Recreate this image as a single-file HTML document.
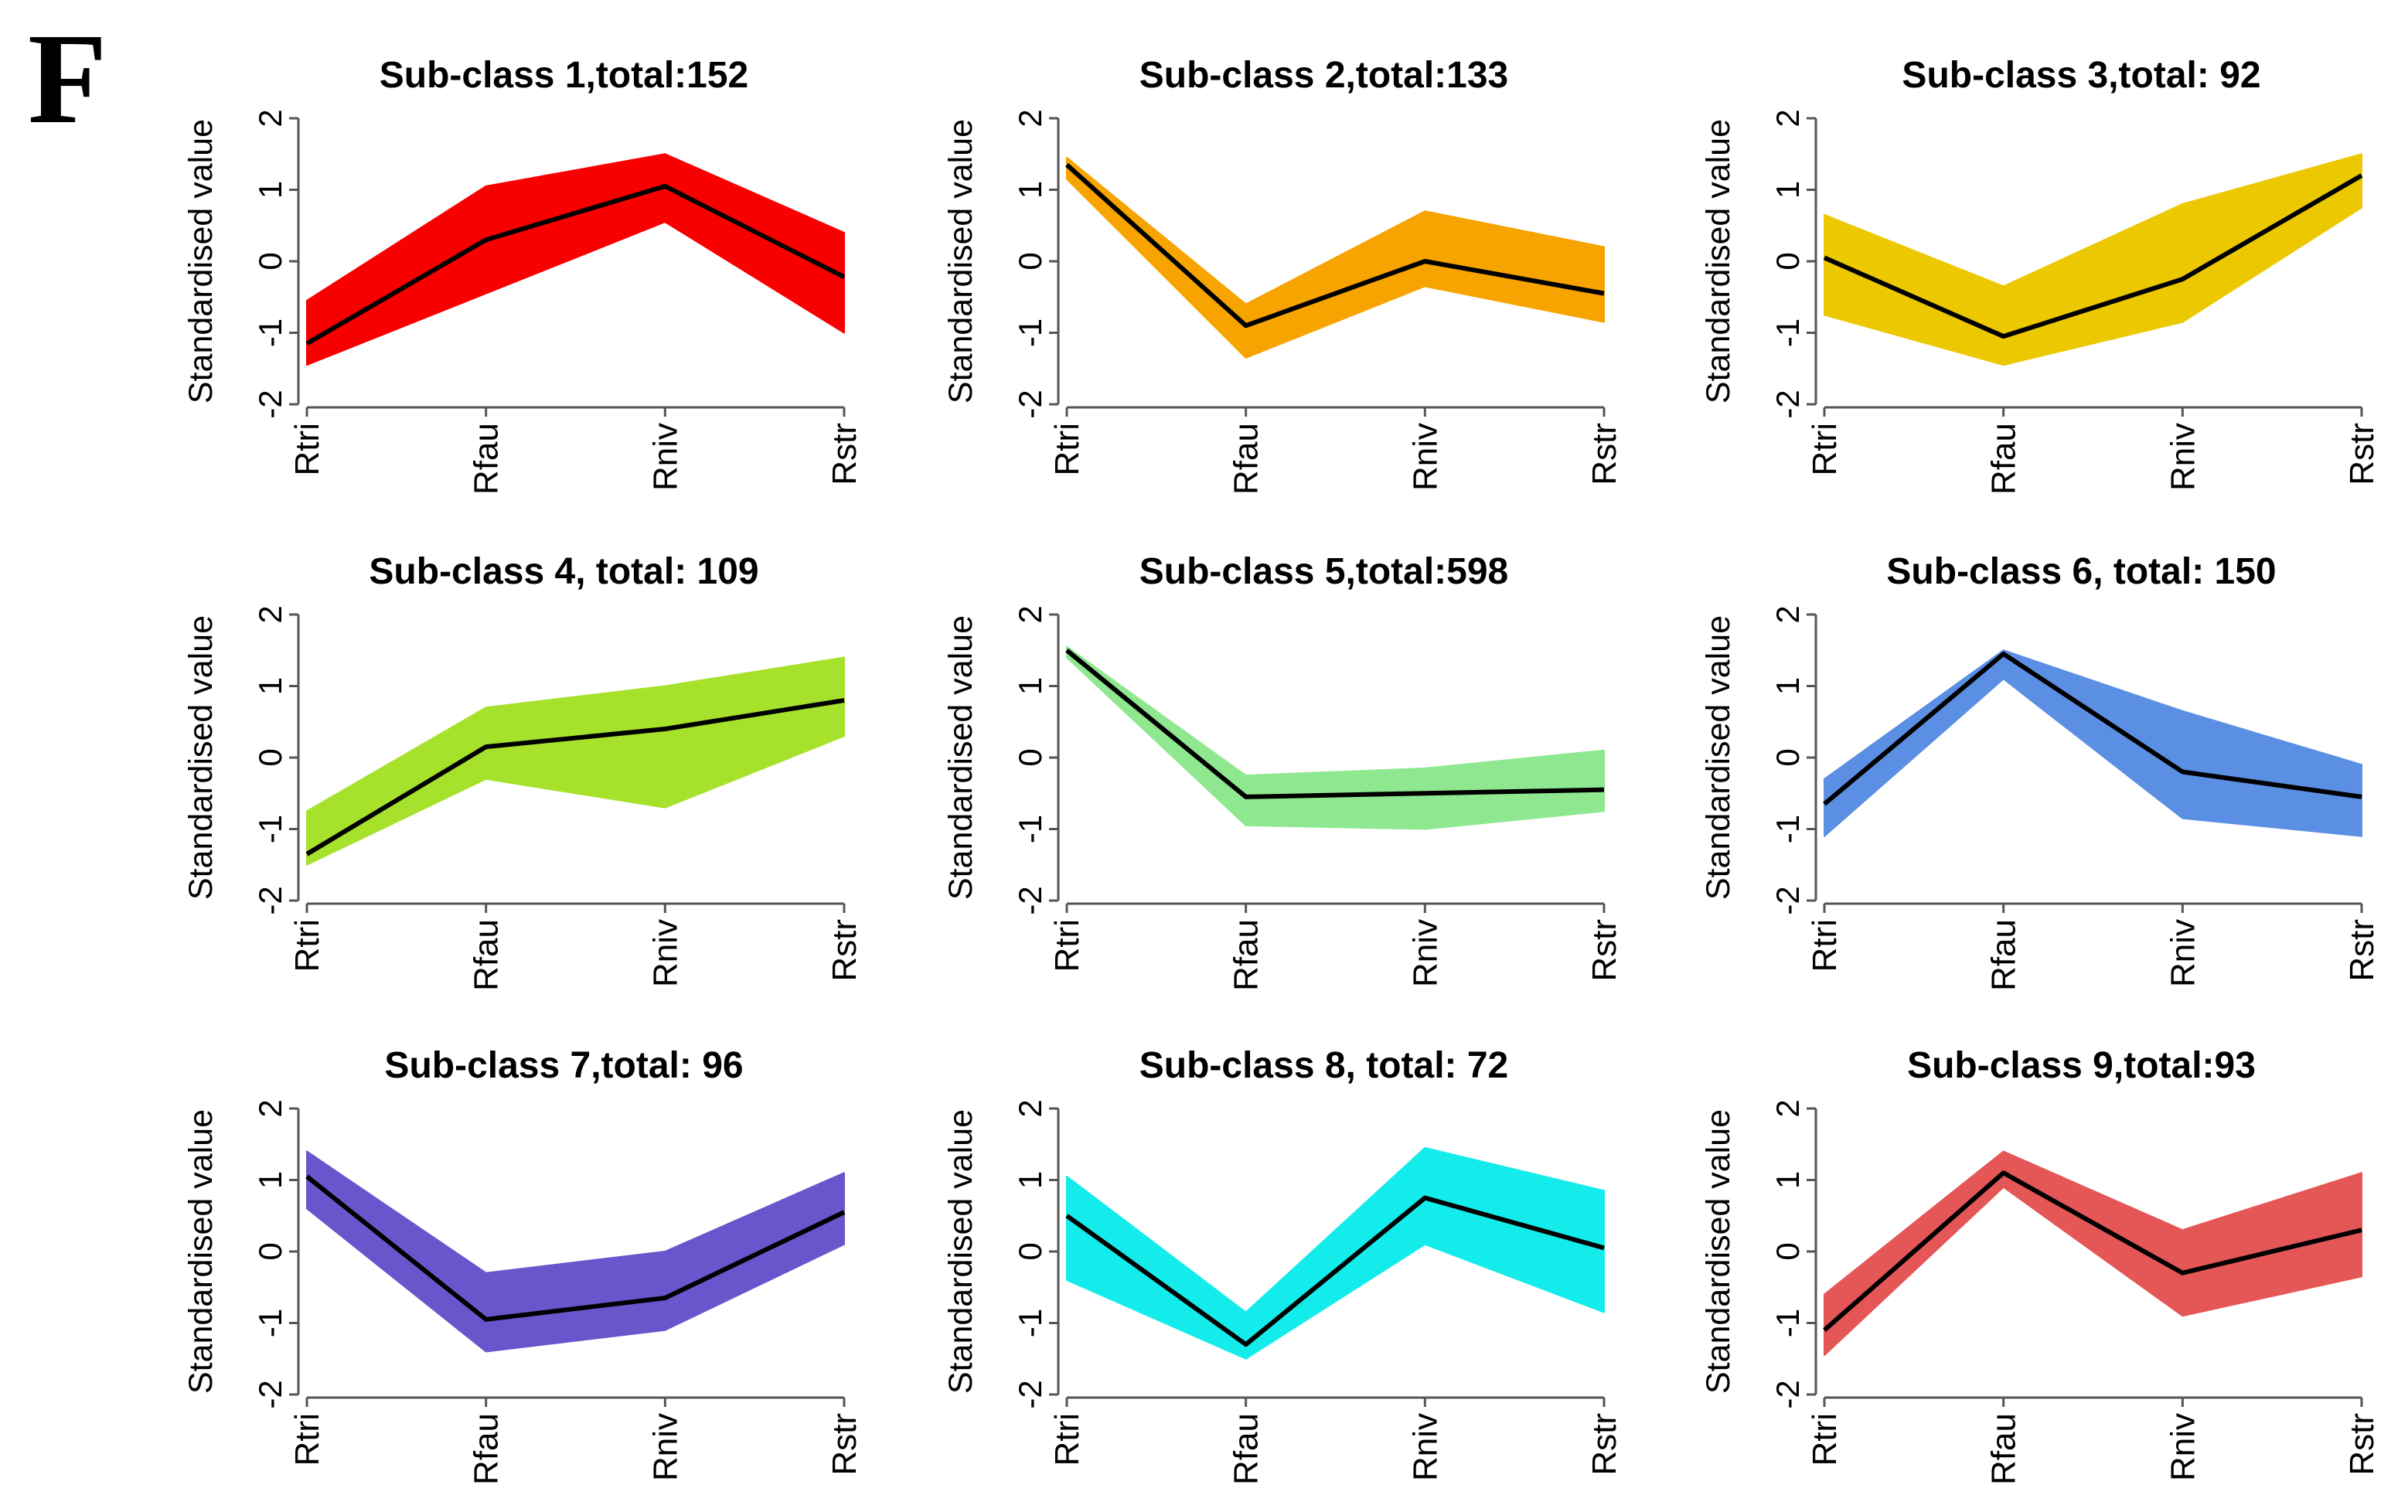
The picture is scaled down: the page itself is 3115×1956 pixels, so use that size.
<!DOCTYPE html>
<html><head><meta charset="utf-8"><style>
html,body{margin:0;padding:0;background:#fff;}
svg{display:block;}
</style></head><body>
<svg id="fig" width="3115" height="1956" viewBox="0 0 3115 1956" xmlns="http://www.w3.org/2000/svg" font-family="Liberation Sans, Arial, sans-serif">
<text x="36" y="158" style="font-family:'Liberation Serif',serif;font-weight:bold;font-size:168px">F</text>
</svg>
<script>
const categories=["Rtri","Rfau","Rniv","Rstr"];
const yTicks=[-2,-1,0,1,2];
const titles=["Sub-class 1,total:152","Sub-class 2,total:133","Sub-class 3,total: 92","Sub-class 4, total: 109","Sub-class 5,total:598","Sub-class 6, total: 150","Sub-class 7,total: 96","Sub-class 8, total: 72","Sub-class 9,total:93"];
const colors=["#f80000","#f7a300","#ecc800","#a6e22c","#8fe88f","#5b8fe3","#6a55cc","#14ecec","#e55656"];
const meanValues=[[-1.15,0.3,1.05,-0.22],[1.35,-0.9,0.0,-0.45],[0.05,-1.05,-0.25,1.2],[-1.35,0.15,0.4,0.8],[1.5,-0.55,-0.5,-0.45],[-0.65,1.45,-0.2,-0.55],[1.05,-0.95,-0.65,0.55],[0.5,-1.3,0.75,0.05],[-1.1,1.1,-0.3,0.3]];
const upperValues=[[-0.55,1.05,1.5,0.4],[1.45,-0.6,0.7,0.2],[0.65,-0.35,0.8,1.5],[-0.75,0.7,1.0,1.4],[1.55,-0.25,-0.15,0.1],[-0.3,1.5,0.65,-0.1],[1.4,-0.3,0.0,1.1],[1.05,-0.85,1.45,0.85],[-0.6,1.4,0.3,1.1]];
const lowerValues=[[-1.45,-0.45,0.55,-1.0],[1.15,-1.35,-0.35,-0.85],[-0.75,-1.45,-0.85,0.75],[-1.5,-0.3,-0.7,0.3],[1.4,-0.95,-1.0,-0.75],[-1.1,1.1,-0.85,-1.1],[0.6,-1.4,-1.1,0.1],[-0.4,-1.5,0.1,-0.85],[-1.45,0.9,-0.9,-0.35]];

const NS="http://www.w3.org/2000/svg";
const svg=document.getElementById("fig");
const colX0=[397,1380,2360], W=695;
const rowY2=[153,795,1434], H=370;
function mk(tag,attrs,parent){const e=document.createElementNS(NS,tag);for(const k in attrs)e.setAttribute(k,attrs[k]);parent.appendChild(e);return e;}

titles.forEach((t,i)=>{
  const c=i%3,r=Math.floor(i/3);
  const x0=colX0[c], yTop=rowY2[r];
  const xs=j=>x0+j*W/(categories.length-1);
  const ys=v=>yTop+(2-v)*H/4;
  const g=mk("g",{},svg);
  
  
  const tt=mk("text",{x:x0-15+W/2,y:yTop-40,"text-anchor":"middle","font-size":"48","font-weight":"bold"},g);
  tt.textContent=t;
  
  
  let pts=[];
  upperValues[i].forEach((v,j)=>pts.push(xs(j)+","+ys(v)));
  for(let j=categories.length-1;j>=0;j--)pts.push(xs(j)+","+ys(lowerValues[i][j]));
  const band=mk("polygon",{points:pts.join(" "),fill:colors[i],stroke:colors[i],"stroke-width":"2","stroke-linejoin":"round"},g);
  
  
  const ml=mk("polyline",{points:meanValues[i].map((v,j)=>xs(j)+","+ys(v)).join(" "),fill:"none",stroke:"#000","stroke-width":"6","stroke-linejoin":"round"},g);
  
  
  const ax=x0-11, yb=yTop+H;
  const ya=mk("line",{x1:ax,y1:yTop,x2:ax,y2:yb,stroke:"#555","stroke-width":"3"},g);
  
  
  yTicks.forEach(v=>{
    mk("line",{x1:ax-12,y1:ys(v),x2:ax,y2:ys(v),stroke:"#555","stroke-width":"3"},g);
    const lt=mk("text",{x:0,y:0,"text-anchor":"middle","font-size":"42",transform:`translate(${ax-22},${ys(v)}) rotate(-90)`},g);
    lt.textContent=String(v);
    
    
  });
  const yl=mk("text",{x:0,y:0,"text-anchor":"middle","font-size":"43",transform:`translate(${ax-112},${yTop+H/2}) rotate(-90)`},g);
  yl.textContent="Standardised value";
  
  
  const xa=mk("line",{x1:xs(0),y1:yb+4,x2:xs(3),y2:yb+4,stroke:"#555","stroke-width":"3"},g);
  
  
  categories.forEach((cat,j)=>{
    mk("line",{x1:xs(j),y1:yb+4,x2:xs(j),y2:yb+16,stroke:"#555","stroke-width":"3"},g);
    const xt=mk("text",{x:0,y:0,"text-anchor":"end","font-size":"44",transform:`translate(${xs(j)+15},${yb+24}) rotate(-90)`},g);
    xt.textContent=cat;
    
    
  });
});
</script>
</body></html>
